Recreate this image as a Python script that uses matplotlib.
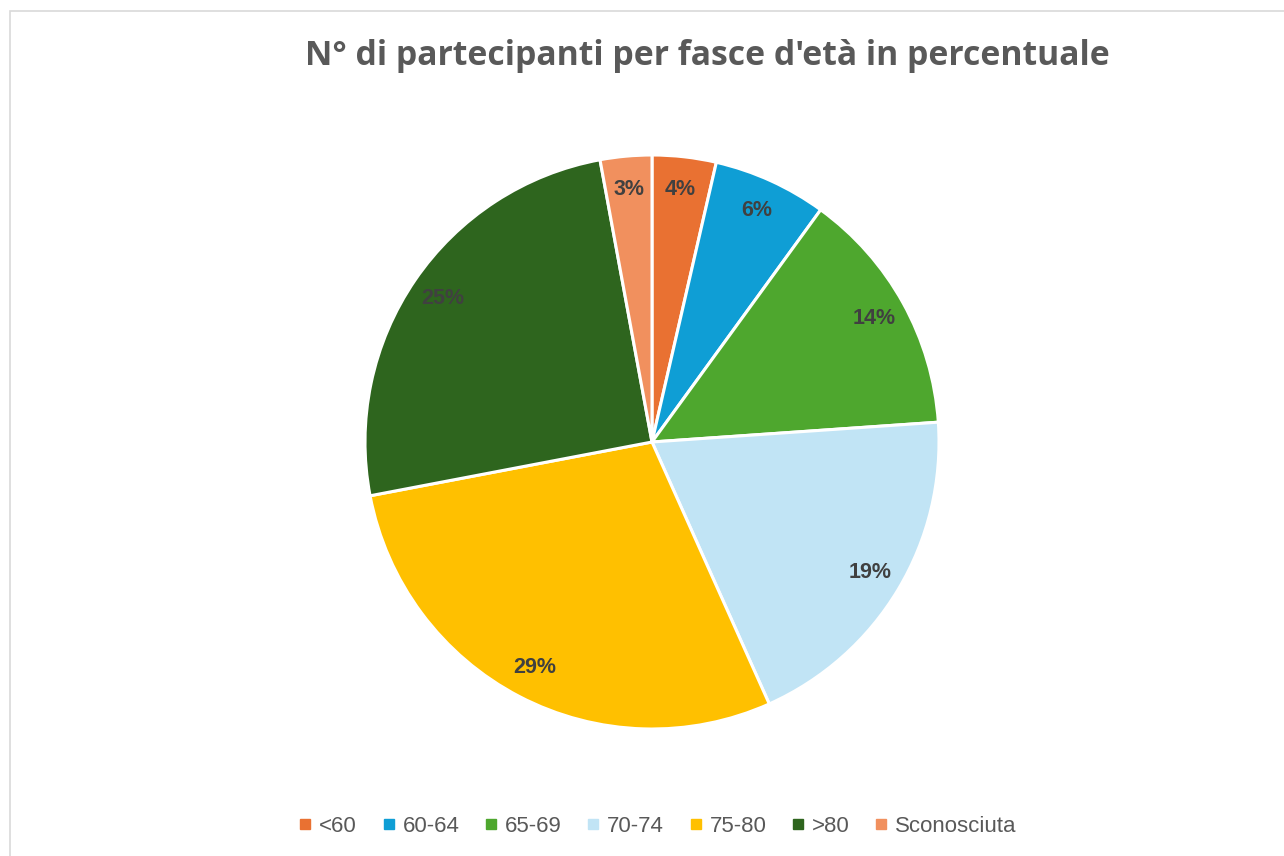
import matplotlib
matplotlib.use("Agg")
import matplotlib.pyplot as plt
from matplotlib.lines import Line2D
from matplotlib.patches import Rectangle

categories = ["<60", "60-64", "65-69", "70-74", "75-80", ">80", "Sconosciuta"]
values = [3.6, 6.4, 13.9, 19.4, 28.7, 25.1, 2.9]
colors = ["#E97132", "#0F9ED5", "#4EA72E", "#C1E4F5", "#FFC000", "#2E651E", "#F1905E"]
title = "N° di partecipanti per fasce d'età in percentuale"

W, H = 1284, 856
fig = plt.figure(figsize=(W / 100, H / 100), dpi=100)
fig.patch.set_facecolor("white")

# chart frame (left/top visible)
fig.patches.append(Rectangle((9.5 / W, -0.1), 1.2, 1 - 11.5 / H + 0.1, transform=fig.transFigure,
                             fill=False, edgecolor="#D9D9D9", linewidth=1.2))

cx, cy, r = 652, 442, 287
ax = fig.add_axes([(cx - r) / W, (H - cy - r) / H, 2 * r / W, 2 * r / H])
wedges, texts, autotexts = ax.pie(
    values, colors=colors, startangle=90, counterclock=False,
    autopct="%.0f%%", pctdistance=0.885,
    wedgeprops=dict(edgecolor="white", linewidth=2.2),
    textprops=dict(color="#404040", fontsize=15.5, fontweight="bold",
                   family=["Liberation Sans", "DejaVu Sans"]),
)
ax.set_xlim(-1.0, 1.0)
ax.set_ylim(-1.0, 1.0)
ax.set_aspect("equal")
ax.axis("off")

fig.text(707 / W, 1 - 56 / H, title, ha="center", va="center", fontsize=24.3,
         fontweight="bold", color="#595959", family=["Open Sans", "DejaVu Sans"])

handles = [Line2D([0], [0], marker="s", linestyle="none", markersize=7,
                  markerfacecolor=c, markeredgecolor=c) for c in colors]
fig.legend(handles, categories, loc="center", bbox_to_anchor=(658 / W, 1 - 826 / H),
           ncol=7, frameon=False, handlelength=0.55, handletextpad=0.35,
           columnspacing=1.15,
           prop=dict(family=["Liberation Sans Narrow", "Liberation Sans", "DejaVu Sans"], size=16),
           labelcolor="#595959")

fig.savefig("out.png", dpi=100, facecolor="white")
